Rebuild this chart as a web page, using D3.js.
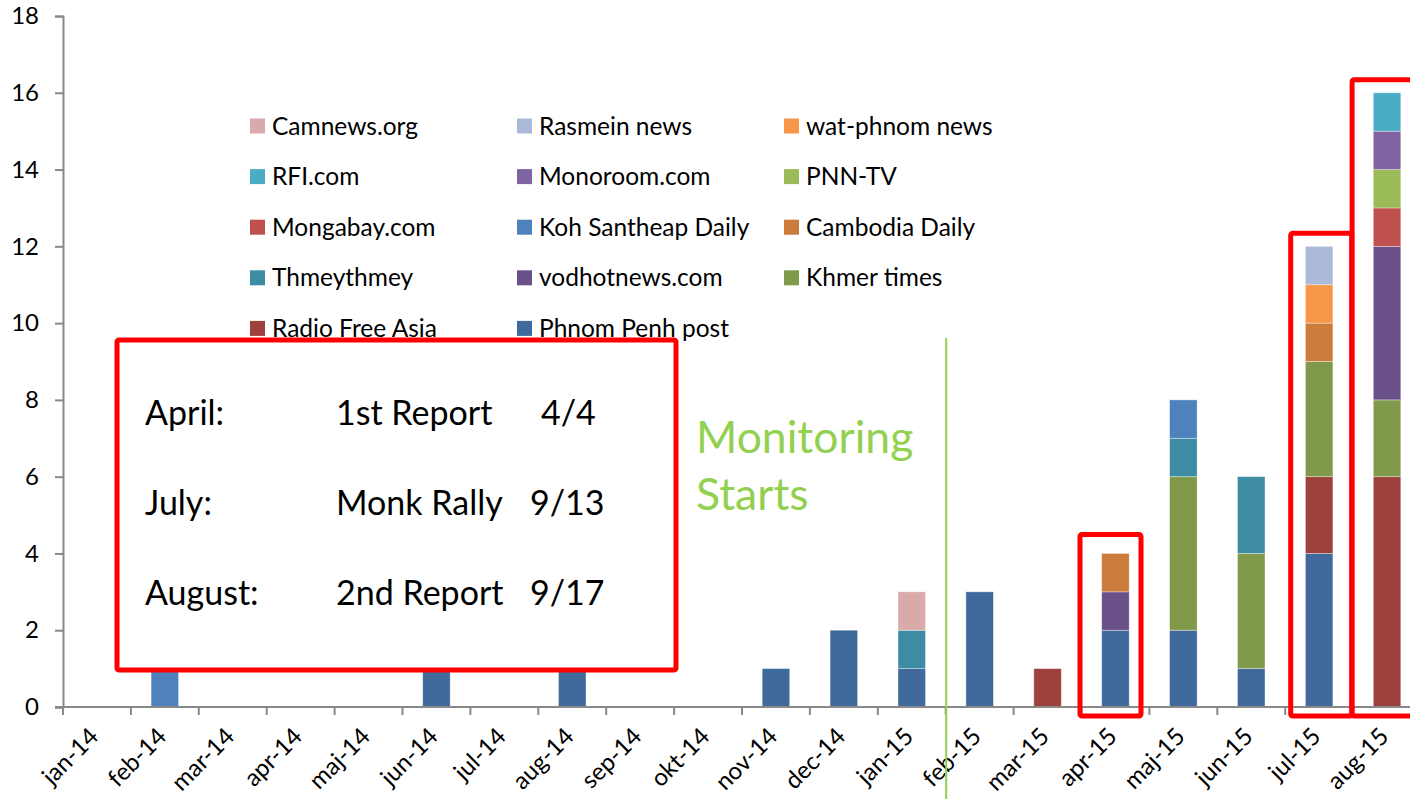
<!DOCTYPE html>
<html>
<head>
<meta charset="utf-8">
<script src="https://cdn.jsdelivr.net/npm/d3@7"></script>
<style>
  body { margin: 0; background: #fff; }
  svg { display: block; font-family: Lato, 'Open Sans', sans-serif; }
</style>
</head>
<body>
<svg id="canvas" width="1410" height="799"></svg>
<script>
// months on the category axis
let months = ['jan-14', 'feb-14', 'mar-14', 'apr-14', 'maj-14', 'jun-14', 'jul-14', 'aug-14', 'sep-14', 'okt-14',
              'nov-14', 'dec-14', 'jan-15', 'feb-15', 'mar-15', 'apr-15', 'maj-15', 'jun-15', 'jul-15', 'aug-15']

// series, in stacking order (bottom first)
let seriesNames = ['Phnom Penh post', 'Radio Free Asia', 'Khmer times', 'vodhotnews.com', 'Thmeythmey',
                   'Cambodia Daily', 'Koh Santheap Daily', 'Mongabay.com', 'PNN-TV', 'Monoroom.com',
                   'RFI.com', 'wat-phnom news', 'Rasmein news', 'Camnews.org']

let phnomPenhPost   = [0, 0, 0, 0, 0, 1, 0, 1, 0, 0, 1, 2, 1, 3, 0, 2, 2, 1, 4, 0]
let radioFreeAsia   = [0, 0, 0, 0, 0, 0, 0, 0, 0, 0, 0, 0, 0, 0, 1, 0, 0, 0, 2, 6]
let khmerTimes      = [0, 0, 0, 0, 0, 0, 0, 0, 0, 0, 0, 0, 0, 0, 0, 0, 4, 3, 3, 2]
let vodhotnews      = [0, 0, 0, 0, 0, 0, 0, 0, 0, 0, 0, 0, 0, 0, 0, 1, 0, 0, 0, 4]
let thmeythmey      = [0, 0, 0, 0, 0, 0, 0, 0, 0, 0, 0, 0, 1, 0, 0, 0, 1, 2, 0, 0]
let cambodiaDaily   = [0, 0, 0, 0, 0, 0, 0, 0, 0, 0, 0, 0, 0, 0, 0, 1, 0, 0, 1, 0]
let kohSantheap     = [0, 1, 0, 0, 0, 0, 0, 0, 0, 0, 0, 0, 0, 0, 0, 0, 1, 0, 0, 0]
let mongabay        = [0, 0, 0, 0, 0, 0, 0, 0, 0, 0, 0, 0, 0, 0, 0, 0, 0, 0, 0, 1]
let pnnTv           = [0, 0, 0, 0, 0, 0, 0, 0, 0, 0, 0, 0, 0, 0, 0, 0, 0, 0, 0, 1]
let monoroom        = [0, 0, 0, 0, 0, 0, 0, 0, 0, 0, 0, 0, 0, 0, 0, 0, 0, 0, 0, 1]
let rfi             = [0, 0, 0, 0, 0, 0, 0, 0, 0, 0, 0, 0, 0, 0, 0, 0, 0, 0, 0, 1]
let watPhnom        = [0, 0, 0, 0, 0, 0, 0, 0, 0, 0, 0, 0, 0, 0, 0, 0, 0, 0, 1, 0]
let rasmein         = [0, 0, 0, 0, 0, 0, 0, 0, 0, 0, 0, 0, 0, 0, 0, 0, 0, 0, 1, 0]
let camnews         = [0, 0, 0, 0, 0, 0, 0, 0, 0, 0, 0, 0, 1, 0, 0, 0, 0, 0, 0, 0]

let seriesValues = [phnomPenhPost, radioFreeAsia, khmerTimes, vodhotnews, thmeythmey, cambodiaDaily, kohSantheap,
                    mongabay, pnnTv, monoroom, rfi, watPhnom, rasmein, camnews]

let seriesColors = ['#416A9C', '#9E413E', '#80994A', '#6A5089', '#3D8CA3', '#CB7B3A', '#4F81BD',
                    '#C0504D', '#9BBB59', '#8064A2', '#4BACC6', '#F79646', '#AABAD7', '#D9AAA9']

// legend is listed in Excel's reversed order, three per row
let legendOrder = ['Camnews.org', 'Rasmein news', 'wat-phnom news', 'RFI.com', 'Monoroom.com', 'PNN-TV',
                   'Mongabay.com', 'Koh Santheap Daily', 'Cambodia Daily', 'Thmeythmey', 'vodhotnews.com',
                   'Khmer times', 'Radio Free Asia', 'Phnom Penh post']

let yTicks = [0, 2, 4, 6, 8, 10, 12, 14, 16, 18]

let noteLines = [
    ['April:', '1st Report', '4/4'],
    ['July:', 'Monk Rally', '9/13'],
    ['August:', '2nd Report', '9/17']
]
let highlightMonths = ['apr-15', 'jul-15', 'aug-15']
let highlightTops = [4, 12, 16]
let monitoringMonth = 'feb-15'

let canvas = d3.select('#canvas')
let axisColor = '#898989'

let xScale = d3.scaleBand()
                .domain(months)
                .range([63, 63 + 20 * 67.9])
                .paddingInner(0.595)
                .paddingOuter(0.2975)

let yScale = d3.scaleLinear()
                .domain([0, 18])
                .range([707, 16])

let table = months.map((m, i) => {
    let row = {month: m}
    seriesNames.forEach((name, s) => { row[name] = seriesValues[s][i] })
    return row
})

let stacked = d3.stack().keys(seriesNames)(table)

// y axis
let yAxis = d3.axisLeft(yScale).tickValues(yTicks).tickSize(8).tickPadding(16)
let yAxisGroup = canvas.append('g')
                    .attr('transform', 'translate(63, 0)')
                    .call(yAxis)
yAxisGroup.select('.domain').attr('stroke', axisColor).attr('stroke-width', 2)
yAxisGroup.selectAll('.tick line').attr('stroke', axisColor).attr('stroke-width', 2)
yAxisGroup.selectAll('.tick text')
            .attr('fill', '#000')
            .style('font-size', '24px')
            .style('font-family', 'Lato, sans-serif')

// legend
let legend = canvas.append('g')
let legendItem = legend.selectAll('g')
            .data(legendOrder)
            .enter()
            .append('g')
            .attr('transform', (d, i) => {
                return 'translate(' + (250 + (i % 3) * 267) + ', ' + (126 + Math.floor(i / 3) * 50.6) + ')'
            })
legendItem.append('rect')
            .attr('x', 0)
            .attr('y', -7.5)
            .attr('width', 15)
            .attr('height', 15)
            .attr('fill', (d) => seriesColors[seriesNames.indexOf(d)])
legendItem.append('text')
            .attr('x', 22)
            .attr('y', 0)
            .attr('dy', '0.35em')
            .style('font-size', '24.5px')
            .text((d) => d)

// stacked bars
let layers = canvas.append('g')
            .selectAll('g')
            .data(stacked)
            .enter()
            .append('g')
            .attr('fill', (layer, i) => seriesColors[i])

layers.selectAll('rect')
        .data((layer) => layer.filter((d) => d[1] - d[0] > 0))
        .enter()
        .append('rect')
        .attr('x', (d) => xScale(d.data.month))
        .attr('y', (d) => yScale(d[1]))
        .attr('width', xScale.bandwidth())
        .attr('height', (d) => yScale(d[0]) - yScale(d[1]))
        .attr('stroke', '#ffffff')
        .attr('stroke-opacity', 0.45)
        .attr('stroke-width', 0.8)

// x axis line and category ticks
canvas.append('line')
        .attr('x1', 55)
        .attr('x2', 1410)
        .attr('y1', yScale(0))
        .attr('y2', yScale(0))
        .attr('stroke', axisColor)
        .attr('stroke-width', 2)

canvas.append('g')
        .selectAll('line')
        .data(d3.range(months.length + 1))
        .enter()
        .append('line')
        .attr('x1', (i) => 63 + i * xScale.step())
        .attr('x2', (i) => 63 + i * xScale.step())
        .attr('y1', yScale(0))
        .attr('y2', yScale(0) + 8)
        .attr('stroke', axisColor)
        .attr('stroke-width', 2)

canvas.append('g')
        .selectAll('text')
        .data(months)
        .enter()
        .append('text')
        .attr('transform', (m) => {
            return 'translate(' + (xScale(m) + xScale.bandwidth() / 2 + 3) + ', 738) rotate(-45)'
        })
        .attr('text-anchor', 'end')
        .style('font-size', '24px')
        .text((m) => m)

// monitoring marker
let monitorX = xScale(monitoringMonth) - xScale.step() * xScale.paddingInner() / 2 + 0.5
canvas.append('line')
        .attr('x1', monitorX)
        .attr('x2', monitorX)
        .attr('y1', 338)
        .attr('y2', 799)
        .attr('stroke', '#92D050')
        .attr('stroke-width', 2)

canvas.append('text')
        .attr('x', 696)
        .attr('y', 453)
        .attr('fill', '#92D050')
        .style('font-size', '44.5px')
        .text('Monitoring')
canvas.append('text')
        .attr('x', 696)
        .attr('y', 510)
        .attr('fill', '#92D050')
        .style('font-size', '44.5px')
        .text('Starts')

// highlight boxes
let boxShift = [-1.5, 5.5, -1]
let boxWidth = [61, 61, 120]
highlightMonths.forEach((m, i) => {
    let bandStart = xScale(m) - xScale.step() * xScale.paddingInner() / 2
    let top = yScale(highlightTops[i]) - (i === 0 ? 19 : 13)
    canvas.append('rect')
            .attr('x', bandStart + boxShift[i])
            .attr('y', top)
            .attr('width', boxWidth[i])
            .attr('height', yScale(0) + 9 - top)
            .attr('rx', 2)
            .attr('fill', 'none')
            .attr('stroke', '#FF0000')
            .attr('stroke-width', 5)
})

// notes box
let note = canvas.append('g')
note.append('rect')
        .attr('x', 117)
        .attr('y', 340)
        .attr('width', 559)
        .attr('height', 330)
        .attr('rx', 2)
        .attr('fill', '#ffffff')
        .attr('stroke', '#FF0000')
        .attr('stroke-width', 5)

let noteCols = [145, 336, 530]
noteLines.forEach((line, r) => {
    line.forEach((t, c) => {
        note.append('text')
            .attr('x', c === 2 && r === 0 ? 541 : noteCols[c])
            .attr('y', 425 + r * 90)
            .style('font-size', '34px')
            .text(t)
    })
})
</script>
</body>
</html>
